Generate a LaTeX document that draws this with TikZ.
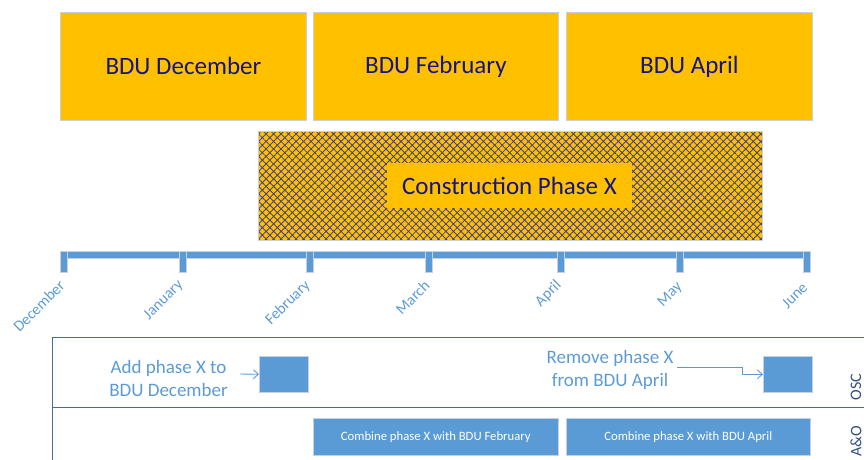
\documentclass[tikz,border=0pt]{standalone}
\usepackage{fontspec}
\setmainfont{Carlito}
\usetikzlibrary{patterns.meta,arrows.meta}
\definecolor{bduorange}{RGB}{255,192,0}
\definecolor{navy}{RGB}{20,20,135}
\definecolor{lblue}{RGB}{91,155,213}
\definecolor{edgegray}{RGB}{200,208,222}
\definecolor{lanecol}{RGB}{70,105,160}
\definecolor{hatchcol}{RGB}{65,65,130}
\definecolor{oscblue}{RGB}{50,80,130}
\begin{document}
\begin{tikzpicture}[x=1pt,y=-1pt,
  bdu/.style={draw=edgegray, line width=0.8pt, fill=bduorange, text=navy, inner sep=0pt,
    anchor=north west, minimum width=246pt, minimum height=108pt,
    font=\fontsize{25}{29}\selectfont},
  tickbox/.style={draw=edgegray, line width=0.6pt, fill=lblue, inner sep=0pt,
    minimum width=7pt, minimum height=21pt, anchor=north},
  month/.style={text=lblue, inner sep=0pt, rotate=45, anchor=east,
    font=\fontsize{15.5}{17}\selectfont},
  bluebox/.style={draw=edgegray, line width=0.6pt, fill=lblue, inner sep=0pt, anchor=north west},
  note/.style={text=lblue, align=center, inner sep=0pt, font=\fontsize{19}{23}\selectfont},
  lane/.style={draw=lanecol, line width=0.9pt},
  lanelabel/.style={text=oscblue, rotate=90, inner sep=0pt, font=\fontsize{16}{18}\selectfont},
  arr/.style={draw=lblue, line width=0.9pt, -{Straight Barb[length=5pt,width=9pt]}}
]
\useasboundingbox (0,0) rectangle (864,460);

% BDU boxes
\node[bdu] (bdec) at (60,12) {BDU December};
\node[bdu, minimum width=245pt] (bfeb) at (313,12) {BDU February};
\node[bdu] (bapr) at (566,12) {BDU April};

% construction phase
\fill[bduorange] (258,131) rectangle (762,240);
\fill[pattern={Hatch[angle=45,distance=5.3pt,line width=0.85pt]}, pattern color=hatchcol]
  (258,131) rectangle (762,240);
\draw[edgegray, line width=0.8pt] (258,131) rectangle (762,240);
\node[fill=bduorange, text=navy, inner sep=0pt, minimum width=245pt, minimum height=45pt,
  font=\fontsize{25}{29}\selectfont] (cons) at (509.5,185.5) {Construction Phase X};

% timeline
\draw[edgegray, line width=0.6pt, fill=lblue] (60,251) rectangle (810,258.5);
\node[tickbox] (tdec) at (64,251) {};
\node[tickbox] (tjan) at (183,251) {};
\node[tickbox] (tfeb) at (310,251) {};
\node[tickbox] (tmar) at (429,251) {};
\node[tickbox] (tapr) at (561,251) {};
\node[tickbox] (tmay) at (680,251) {};
\node[tickbox] (tjun) at (807,251) {};

\node[month] (ldec) at (62,283) {December};
\node[month] (ljan) at (181,283) {January};
\node[month] (lfeb) at (308,283) {February};
\node[month] (lmar) at (427,283) {March};
\node[month] (lapr) at (559,283) {April};
\node[month] (lmay) at (680,285) {May};
\node[month] (ljun) at (805,285) {June};

% swimlanes
\draw[lane] (52,460) -- (52,337.5) -- (864,337.5);
\draw[lane] (52,407) -- (864,407);
\node[lanelabel] (osc) at (856,387) {OSC};
\node[lanelabel] (ao) at (856,441) {A\&O};

% OSC lane
\node[bluebox, minimum width=49pt, minimum height=36pt] (addbox) at (259,356) {};
\node[bluebox, minimum width=49pt, minimum height=36pt] (rembox) at (763,356) {};
\node[note] (addtxt) at (168.5,378) {Add phase X to\\BDU December};
\node[note] (remtxt) at (610,370) {Remove phase X\\from BDU April};
\coordinate (addstart) at (240,374);
\coordinate (remstart) at (677,367);
\draw[arr] (addstart) -- (addbox.west);
\draw[arr] (remstart) -- (742,367) |- (rembox.west);

% A&O lane
\node[bluebox, minimum width=245pt, minimum height=37pt, text=white,
  font=\fontsize{12.7}{14}\selectfont] (cfeb) at (313,418) {Combine phase X with BDU February};
\node[bluebox, minimum width=244pt, minimum height=37pt, text=white,
  font=\fontsize{12.7}{14}\selectfont] (capr) at (566,418) {Combine phase X with BDU April};
\end{tikzpicture}
\end{document}
